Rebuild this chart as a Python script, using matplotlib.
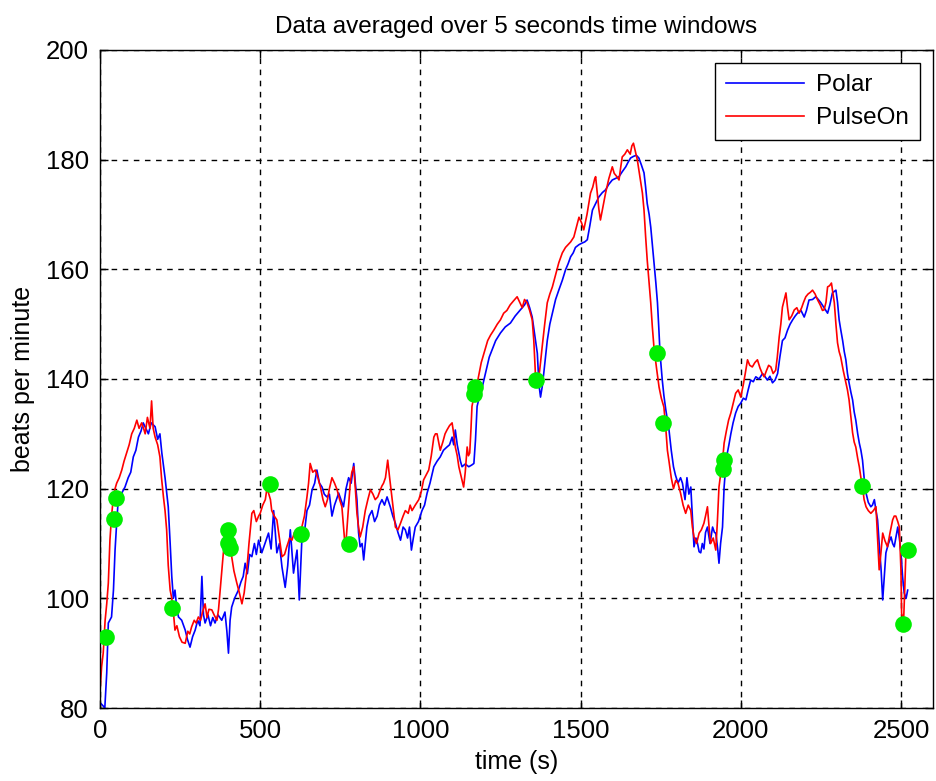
import matplotlib.pyplot as plt

plt.rcParams['font.family'] = ['Liberation Sans', 'DejaVu Sans']

# Polar 心率 (time s, bpm)
polar_t = [0, 8, 15, 21, 26, 36, 42, 47, 52, 57, 66, 78, 88, 96, 104, 112, 120, 128, 135, 143, 151, 160, 172, 180, 187, 193, 203, 213, 219, 224, 229, 234, 240, 245, 255, 266, 273, 281, 289, 297, 305, 312, 318, 323, 328, 337, 345, 352, 359, 368, 380, 390, 396, 401, 406, 411, 420, 432, 440, 447, 453, 460, 467, 474, 482, 488, 495,
           505, 515, 526, 534, 542, 552, 560, 568, 578, 586, 594, 604, 610, 615, 622, 630, 638, 646, 654, 662, 670, 677, 685, 693, 700, 708, 716, 724, 732, 745, 752, 760, 768, 776, 784, 792, 797, 802, 807, 812, 818, 823, 828, 833, 840, 849, 857, 865, 872, 880, 888, 896, 906, 914, 922, 930, 938, 946, 953, 960, 966, 972, 978, 984, 994,
           1005, 1013, 1021, 1030, 1042, 1052, 1062, 1072, 1083, 1091, 1099, 1104, 1109, 1115, 1120, 1125, 1130, 1140, 1151, 1160, 1167, 1172, 1177, 1185, 1195, 1205, 1215, 1225, 1235, 1250, 1265, 1281, 1296, 1312, 1325, 1333, 1341, 1349, 1357, 1365, 1370, 1375, 1380, 1385, 1396, 1404, 1412, 1422, 1432, 1443, 1453, 1461, 1469, 1477, 1484, 1495,
           1505, 1513, 1521, 1529, 1537, 1547, 1557, 1568, 1578, 1588, 1599, 1610, 1620, 1630, 1641, 1648, 1656, 1665, 1674, 1682, 1690, 1698, 1703, 1708, 1714, 1719, 1724, 1729, 1735, 1740, 1744, 1748, 1755, 1760, 1766, 1771, 1776, 1783, 1790, 1796, 1804, 1812, 1818, 1826, 1832, 1838, 1844, 1849, 1854, 1860, 1865, 1870, 1875, 1880, 1885, 1890, 1896, 1904, 1912, 1918, 1922, 1928, 1932, 1937, 1943, 1948, 1953, 1958, 1963, 1969, 1976, 1984, 1992,
           2000, 2008, 2016, 2023, 2031, 2039, 2047, 2057, 2068, 2075, 2083, 2091, 2099, 2107, 2115, 2122, 2130, 2138, 2146, 2154, 2162, 2170, 2177, 2188, 2198, 2205, 2213, 2224, 2234, 2242, 2250, 2260, 2271, 2278, 2286, 2297, 2302, 2307, 2312, 2318, 2323, 2328, 2333, 2338, 2344, 2349, 2354, 2359, 2365, 2370, 2375, 2380, 2385, 2391, 2398, 2406, 2411, 2417, 2422, 2427, 2432, 2438, 2443, 2448, 2453, 2461, 2469, 2474, 2479, 2484, 2490, 2495, 2500, 2505, 2510, 2516, 2521]
polar_bpm = [81, 80.5, 80, 86.4, 95.5, 96.6, 101.5, 108.8, 113.7, 118, 119, 120.3, 122, 123, 125.8, 127, 129.4, 130.5, 132, 131, 130, 132, 131.3, 129, 130, 126.5, 122, 116.7, 110, 104, 100, 101.5, 98, 96.6, 96, 94.2, 92.5, 91.1, 93, 94.2, 96, 95, 104, 97, 95.5, 97, 95, 96.5, 95.5, 97, 96, 97.5, 94, 90, 96, 98.4, 100, 101.5, 103, 104, 106.4, 104.5, 108, 107.6, 110, 108, 110.6,
             108.3, 110, 111.9, 109, 116, 108.3, 110, 105.7, 102, 106, 112.5, 104.6, 107, 108.8, 99.7, 110.6, 112, 116, 117, 119.8, 121, 123.4, 121, 120.3, 119, 118.5, 119, 115, 117, 119.2, 118, 116.7, 120, 122, 121, 124.6, 121, 118, 112, 109.4, 110, 107, 110, 113, 115, 116, 114, 115, 117, 118, 117, 118.5, 116.7, 115, 113.7, 112, 110.6, 113, 112.5, 111, 113, 108.8, 111, 113, 114,
             116, 117, 119.2, 121, 124, 125, 125.8, 127, 127.6, 128, 129.4, 128, 130.7, 128, 126.5, 125, 124, 124.5, 124, 124.3, 124.6, 128.9, 135, 137, 139, 141.5, 144, 145.5, 147, 148.4, 149.5, 150.2, 151.5, 152.6, 153.5, 154.4, 153, 151.3, 148, 144.7, 139, 136.7, 138.5, 141, 147, 150, 152, 154.5, 156.2, 158, 159.9, 161, 162.3, 163, 164, 164.5,
             164.8, 165, 165.4, 168, 170.8, 172, 173.2, 174, 174.5, 175.5, 176.3, 176.6, 176.9, 177.8, 178.7, 179.5, 180.3, 180.6, 180.8, 180.3, 179, 177.6, 175, 172, 170, 167.7, 164.5, 161.2, 157.5, 153.9, 149.5, 144.7, 139.8, 137, 134.4, 132.5, 130.7, 127, 124, 122.5, 121, 122, 121, 118, 122, 119, 120.3, 115, 109.4, 111, 110, 108.5, 108.3, 110, 109, 112, 113, 110, 113, 112, 111.9, 109, 106.4, 110, 113, 120.3, 124, 126.5, 128, 130, 132, 133.8, 135,
             135.6, 136.5, 136.2, 138, 139.8, 139.5, 140.4, 140, 141, 140.5, 139.8, 140.5, 139.3, 139.8, 141, 144, 147, 147.5, 148.9, 150, 150.8, 151.5, 152, 152.5, 151.3, 152.5, 154.4, 154.5, 155, 154.5, 153.9, 153, 152, 153.5, 155.7, 156.2, 154, 150.8, 149, 147, 145, 143.5, 141, 139.3, 137.5, 136.2, 134, 132.5, 130, 128.3, 127, 125.2, 122, 119.2, 117.5, 116.7, 117, 118, 116, 114.3, 110, 105.2, 99.7, 104, 108.3, 110, 111.2, 110, 109.4, 111, 113, 111, 108.3, 104, 101, 100, 101.5]

# PulseOn 心率
pulseon_t = [0, 5, 10, 16, 21, 26, 31, 36, 42, 47, 52, 60, 68, 75, 83, 91, 99, 107, 115, 122, 130, 136, 141, 148, 156, 161, 166, 172, 180, 187, 192, 198, 203, 208, 213, 219, 224, 229, 234, 240, 248, 256, 266, 274, 280, 286, 294, 300, 307, 314, 320, 328, 334, 340, 349, 356, 365, 370, 375, 380, 385, 390, 396, 401, 406, 411, 418, 427, 435, 443, 450, 458, 465, 470, 474, 480, 488, 495,
             500, 508, 516, 521, 526, 532, 536, 544, 552, 560, 568, 576, 583, 592, 599, 607, 615, 622, 630, 638, 646, 651, 656, 664, 672, 680, 688, 696, 703, 710, 716, 724, 732, 740, 748, 755, 760, 766, 770, 775, 781, 786, 792, 797, 802, 807, 812, 820, 828, 836, 844, 852, 859, 867, 875, 880, 885, 891, 898, 904, 911, 916, 922, 930, 938, 946, 953, 962, 968, 974, 984, 995,
             1003, 1010, 1018, 1026, 1034, 1042, 1047, 1052, 1057, 1062, 1070, 1077, 1083, 1091, 1099, 1104, 1109, 1115, 1120, 1128, 1135, 1140, 1146, 1150, 1154, 1158, 1161, 1166, 1172, 1180, 1190, 1200, 1210, 1219, 1230, 1240, 1250, 1260, 1270, 1280, 1290, 1302, 1310, 1318, 1325, 1333, 1341, 1349, 1354, 1359, 1365, 1370, 1375, 1380, 1388, 1396, 1404, 1412, 1422, 1432, 1443, 1453, 1461, 1469, 1479, 1486, 1495,
             1503, 1510, 1520, 1531, 1538, 1544, 1547, 1552, 1557, 1562, 1570, 1578, 1588, 1599, 1605, 1612, 1620, 1625, 1630, 1638, 1646, 1655, 1660, 1665, 1671, 1677, 1685, 1693, 1698, 1703, 1708, 1714, 1719, 1724, 1729, 1737, 1745, 1752, 1760, 1766, 1771, 1776, 1783, 1790, 1797, 1804, 1812, 1820, 1828, 1836, 1844, 1849, 1854, 1862, 1870, 1877, 1885, 1890, 1896, 1901, 1906, 1914, 1922, 1927, 1932, 1938, 1943, 1948, 1955, 1962, 1969, 1976, 1984, 1992,
             2000, 2008, 2014, 2021, 2028, 2036, 2044, 2052, 2060, 2067, 2073, 2080, 2087, 2094, 2101, 2109, 2114, 2120, 2125, 2130, 2136, 2141, 2146, 2151, 2159, 2167, 2175, 2182, 2190, 2196, 2203, 2210, 2217, 2224, 2232, 2240, 2248, 2255, 2260, 2266, 2271, 2277, 2283, 2288, 2292, 2297, 2302, 2307, 2312, 2320, 2328, 2333, 2338, 2344, 2349, 2354, 2359, 2365, 2370, 2375, 2380, 2385, 2391, 2398, 2406, 2414, 2422, 2427, 2432, 2437, 2443, 2450, 2458, 2466, 2474, 2479, 2484, 2490, 2495, 2500, 2502, 2508, 2512, 2516, 2520]
pulseon_bpm = [83, 87.5, 90, 96, 99, 102.8, 110.6, 115, 118.5, 120, 121, 122, 123.4, 125, 126.5, 128, 130, 131, 132.5, 131, 132, 131, 130, 133, 131, 136, 131, 129.4, 128, 125.8, 122, 118.5, 116, 112.5, 106, 101.5, 100, 97.5, 94.2, 95, 93, 92, 91.8, 94, 93.5, 94.8, 96, 95.5, 96.6, 96, 97.5, 99, 96.5, 98, 97.9, 97, 96, 98, 101.5, 105, 108.3, 110, 111, 110, 109, 107.6, 105, 102.8, 101, 99, 101, 105, 110, 113, 115.5, 116, 114, 115,
               115.5, 117, 118, 120, 119.2, 118, 116, 115, 114.3, 111, 107.6, 108, 109.4, 111, 110.6, 112, 110.6, 112, 113, 115, 118.5, 121, 124.6, 123, 123.4, 122, 120.3, 118, 116.7, 118, 120, 122, 121, 119.8, 118, 116.7, 113, 108.8, 112, 116, 121, 123, 124, 120, 115.5, 113, 111.2, 113, 116, 118, 119.8, 119, 118, 118.5, 119.8, 120.5, 121, 122, 125.2, 122, 118.5, 116, 113, 112.5, 113.7, 115, 116, 115.5, 117, 116, 117, 118,
               119.5, 121.6, 122.5, 123.4, 126, 129.4, 130, 130, 128.5, 127, 128.5, 130, 130.7, 131.5, 132, 130, 127.6, 126, 124, 122, 120.3, 123, 127.6, 126, 126.5, 131, 135, 136.5, 137.4, 140, 143, 145, 147, 148, 149, 150, 150.8, 152, 152.5, 153.5, 154.2, 155, 154, 153, 154.5, 153.9, 152.5, 150.8, 147, 141, 140, 140.4, 143, 145.8, 150, 153.9, 155.5, 156.8, 159, 161.2, 163, 164, 164.5, 165, 165.9, 167.5, 169.5,
               168.5, 167.2, 170, 173.9, 175, 176.5, 176.9, 174, 171, 169, 171.5, 173.9, 176.5, 178.7, 177.5, 177, 176.3, 178.5, 180.5, 181, 181.8, 181, 182.5, 183, 181.5, 180, 177, 173.9, 170.8, 166, 161.7, 157.5, 153.9, 149.5, 145.8, 142, 138.5, 136.5, 134.9, 131, 127, 125, 122, 120, 121.5, 121, 119.2, 117, 115.5, 117, 116, 113, 111.2, 110, 111.9, 112.5, 113.7, 115, 116.7, 113, 110, 111, 108.8, 114, 120.3, 123, 125, 128.3, 130.5, 132.5, 133.8, 135.5, 137.4, 138,
               136.7, 139, 141, 143.5, 142.5, 142.2, 143, 143.5, 142, 141, 140.4, 141.5, 142.5, 142.2, 141, 141.6, 144, 147.7, 150, 153.1, 154.5, 155.7, 153, 150.8, 151.5, 152.6, 153, 152, 153, 154, 155, 155.5, 155.8, 156.2, 155.5, 154.4, 153.5, 152.5, 152.6, 154, 156.8, 157, 157.5, 155.5, 153.9, 150, 146.6, 145, 144, 141.5, 139.3, 138, 136.2, 133, 130.2, 128.5, 127.6, 125.5, 124, 122, 120.3, 118, 116.7, 116, 115.5, 116, 116.7, 111, 105.2, 108, 111.9, 110.5, 109.4, 112, 114.3, 115, 115, 114, 113, 105, 97.3, 95.5, 102, 109.4, 108.5]

# 绿色标记点
mark_t = [19, 44, 49, 226, 401, 401, 406, 530, 627, 776, 1168, 1171, 1362, 1738, 1757, 1943, 1947, 2379, 2507, 2523]
mark_bpm = [93, 114.4, 118.3, 98.3, 112.4, 110, 109.1, 120.8, 111.7, 109.9, 137.3, 138.5, 139.8, 144.8, 132, 123.6, 125.3, 120.5, 95.4, 108.8]

fig = plt.figure(figsize=(9.36, 7.81), dpi=100)
ax = fig.add_axes([100 / 936, 1 - 708 / 781, 833 / 936, 658 / 781])

ax.plot(polar_t, polar_bpm, color='#0000ff', lw=1.2, label='Polar')
ax.plot(pulseon_t, pulseon_bpm, color='#ff0000', lw=1.2, label='PulseOn')
ax.plot(mark_t, mark_bpm, 'o', color='#00ee00', markersize=12, markeredgewidth=0, zorder=5)

ax.set_xlim(0, 2600)
ax.set_ylim(80, 200)
ax.set_xticks([0, 500, 1000, 1500, 2000, 2500])
ax.set_yticks(range(80, 201, 20))
ax.grid(True, color='black', linestyle=(0, (4, 4)), linewidth=1)
ax.tick_params(direction='in', top=True, right=True, labelsize=18.5, length=6, width=1, pad=8)
for s in ax.spines.values():
    s.set_linewidth(1)

ax.set_title('Data averaged over 5 seconds time windows', fontsize=17.5, pad=12)
ax.set_xlabel('time (s)', fontsize=18, labelpad=5)
ax.set_ylabel('beats per minute', fontsize=18, labelpad=8)

leg = ax.legend(loc='upper right', fontsize=17.5, fancybox=False, framealpha=1,
                edgecolor='black', handlelength=3.2, handletextpad=0.5, borderpad=0.45,
                labelspacing=0.45, borderaxespad=0.55)
leg.get_frame().set_linewidth(1)

plt.savefig('out.png', dpi=100)
